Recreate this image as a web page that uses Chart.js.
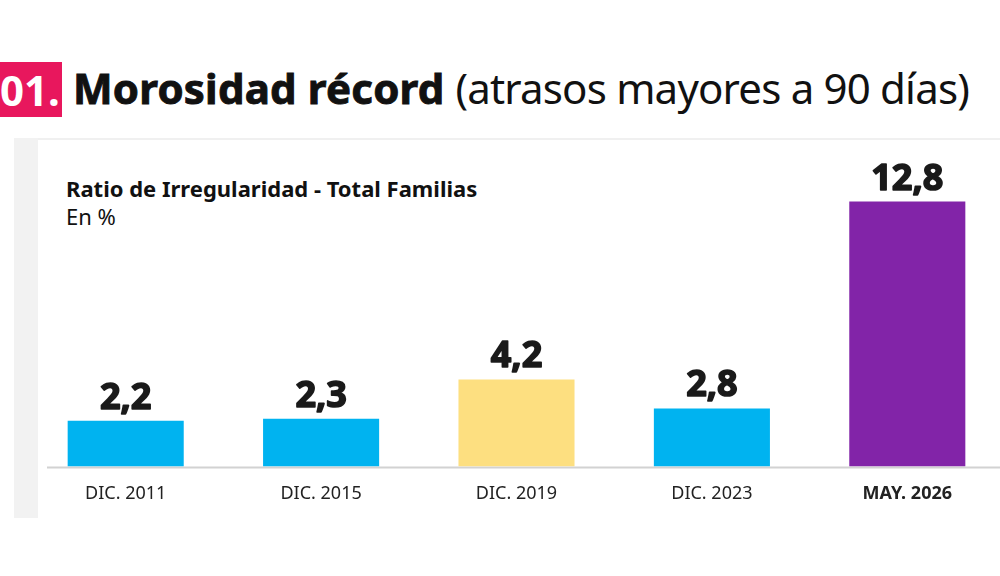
<!DOCTYPE html>
<html>
<head>
<meta charset="utf-8">
<script src="https://cdn.jsdelivr.net/npm/chart.js@4"></script>
<style>
  html, body { margin: 0; padding: 0; background: #fff; overflow: hidden; }
  body { width: 1000px; height: 576px; position: relative; font-family: "Noto Sans", sans-serif; color: #111; }
  .num { position: absolute; left: 0; top: 62px; width: 62px; height: 55px; background: #e8175d; color: #fff;
         font-weight: bold; font-size: 42px; line-height: 55px; text-align: right; box-sizing: border-box; padding-right: 4px; }
  .title { position: absolute; left: 73px; top: 60px; font-size: 42px; line-height: 56px; white-space: nowrap; }
  .title b { font-weight: bold; -webkit-text-stroke: 0.9px #111; letter-spacing: 0.2px; }
  .title span { letter-spacing: -0.8px; }
  .panel-top { position: absolute; left: 38px; top: 138px; width: 962px; height: 2px; background: #f0f0f0; }
  .panel-side { position: absolute; left: 14px; top: 138px; width: 24px; height: 380px; background: #f2f2f2; }
  .sub { position: absolute; left: 66px; top: 174px; font-size: 22px; font-weight: bold; line-height: 28px; white-space: nowrap; }
  .unit { position: absolute; left: 66px; top: 203px; font-size: 22px; line-height: 26px; }
  canvas { position: absolute; left: 0; top: 0; }
</style>
</head>
<body>
<div class="num">01.</div>
<div class="title"><b>Morosidad récord</b> <span>(atrasos mayores a 90 días)</span></div>
<div class="panel-top"></div>
<div class="panel-side"></div>
<div class="sub">Ratio de Irregularidad - Total Familias</div>
<div class="unit">En %</div>
<canvas id="chart" width="1005" height="576"></canvas>
<script>
const categories = ['DIC. 2011', 'DIC. 2015', 'DIC. 2019', 'DIC. 2023', 'MAY. 2026'];
const values = [2.2, 2.3, 4.2, 2.8, 12.8];
const barColors = ['#00b3f0', '#00b3f0', '#fddf80', '#00b3f0', '#8224a8'];

// baseline under the bars
const baseline = {
  id: 'baseline',
  beforeDatasetsDraw(chart) {
    const ctx = chart.ctx;
    const y = chart.scales.y.getPixelForValue(0) + 1;
    ctx.save();
    ctx.strokeStyle = '#d2d2d2';
    ctx.lineWidth = 2;
    ctx.beginPath();
    ctx.moveTo(47, y);
    ctx.lineTo(1005, y);
    ctx.stroke();
    ctx.restore();
  }
};

// value labels on top of bars
const valueLabels = {
  id: 'valueLabels',
  afterDatasetsDraw(chart) {
    const ctx = chart.ctx;
    const meta = chart.getDatasetMeta(0);
    ctx.save();
    ctx.fillStyle = '#1a1a1a';
    ctx.strokeStyle = '#1a1a1a';
    ctx.lineWidth = 1.6;
    ctx.lineJoin = 'round';
    ctx.font = 'bold 36px "Noto Sans"';
    ctx.textAlign = 'center';
    ctx.textBaseline = 'alphabetic';
    meta.data.forEach((bar, i) => {
      const txt = values[i].toFixed(1).replace('.', ',');
      ctx.fillText(txt, bar.x, bar.y - 12);
      ctx.strokeText(txt, bar.x, bar.y - 12);
    });
    ctx.restore();
  }
};

new Chart(document.getElementById('chart'), {
  type: 'bar',
  data: {
    labels: categories,
    datasets: [{
      data: values,
      backgroundColor: barColors,
      barPercentage: 0.594,
      categoryPercentage: 1
    }]
  },
  options: {
    responsive: false,
    animation: false,
    layout: { padding: { left: 28, right: 0, top: 156, bottom: 62 } },
    plugins: { legend: { display: false }, tooltip: { enabled: false } },
    scales: {
      y: { display: false, min: 0, max: 15 },
      x: {
        grid: { display: false },
        border: { display: false },
        ticks: {
          color: '#222',
          padding: 9,
          font: (c) => ({ family: 'Noto Sans', size: 18, weight: c.index === 4 ? 'bold' : 'normal' })
        }
      }
    }
  },
  plugins: [baseline, valueLabels]
});
</script>
</body>
</html>
